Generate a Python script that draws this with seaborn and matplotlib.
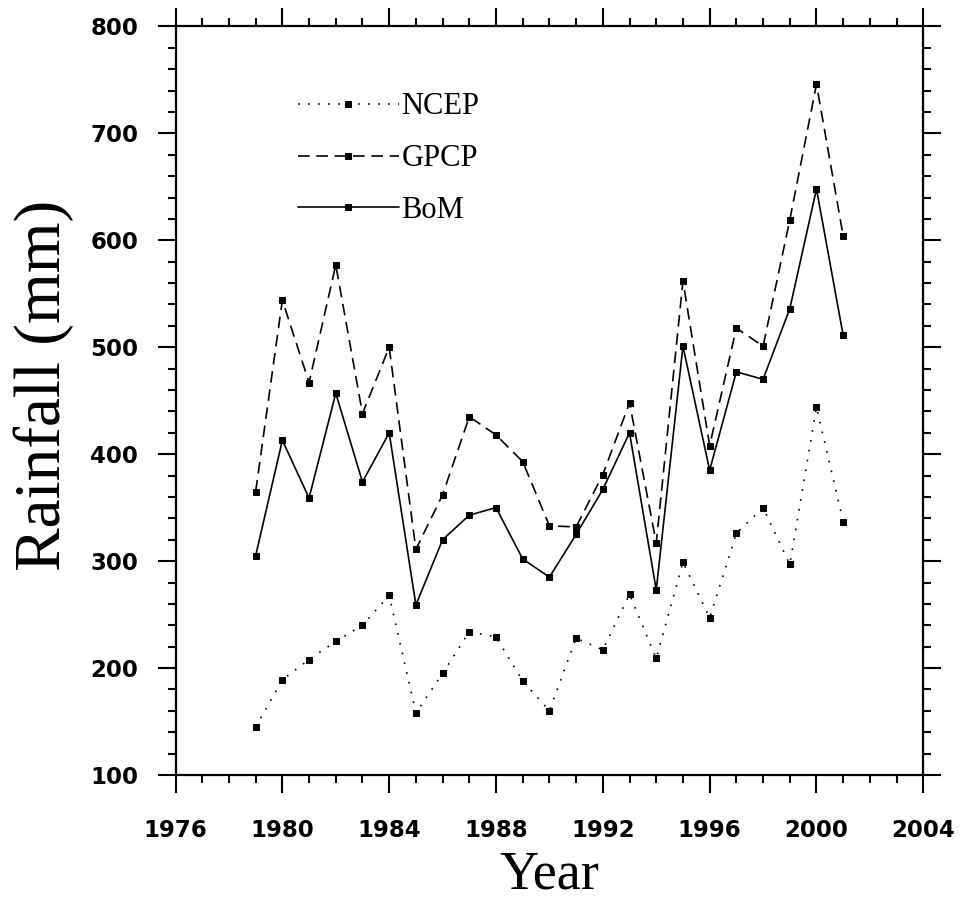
import numpy as np
import pandas as pd
import seaborn as sns
import matplotlib.pyplot as plt
from matplotlib.ticker import MultipleLocator

# annual rainfall (mm)
years = list(range(1979, 2002))
ncep = [145, 189, 208, 225, 240, 268, 158, 195, 234, 229, 188, 160,
        228, 217, 269, 209, 299, 247, 326, 350, 297, 444, 337]
gpcp = [365, 544, 467, 577, 438, 500, 311, 362, 435, 418, 393, 333,
        332, 381, 448, 317, 562, 408, 518, 501, 619, 746, 604]
bom = [305, 413, 359, 457, 374, 420, 259, 320, 343, 350, 302, 285,
       325, 367, 420, 273, 501, 385, 477, 470, 536, 648, 511]

series = ["NCEP", "GPCP", "BoM"]
styles = {"NCEP": (0, (1, 5)), "GPCP": (0, (7, 4)), "BoM": "-"}

df = pd.DataFrame({"Year": years * 3,
                   "Rainfall": ncep + gpcp + bom,
                   "Source": ["NCEP"] * len(years) + ["GPCP"] * len(years) + ["BoM"] * len(years)})

sns.set_style("ticks")
plt.rcParams["font.family"] = ["DejaVu Sans"]

fig = plt.figure(figsize=(9.65, 9.0), dpi=100)
ax = fig.add_axes([0.1819, 0.1389, 0.7749, 0.8317])

for s in series:
    sub = df[df["Source"] == s]
    sns.lineplot(data=sub, x="Year", y="Rainfall", ax=ax, color="black",
                 linestyle=styles[s], linewidth=1.2, marker="s", markersize=5,
                 markeredgecolor="black", label=s)

ax.set_xlim(1976, 2004)
ax.set_ylim(100, 800)
ax.xaxis.set_major_locator(MultipleLocator(4))
ax.xaxis.set_minor_locator(MultipleLocator(1))
ax.yaxis.set_major_locator(MultipleLocator(100))
ax.yaxis.set_minor_locator(MultipleLocator(20))

ax.tick_params(which="both", direction="out", top=True, right=True, width=1.5,
               color="black", labelcolor="black")
ax.tick_params(which="major", length=13)
ax.tick_params(which="minor", length=6)
ax.tick_params(axis="x", which="major", pad=19)
ax.tick_params(axis="y", which="major", pad=14)
for lab in ax.get_xticklabels() + ax.get_yticklabels():
    lab.set_fontsize(16.5)
    lab.set_fontweight("bold")
for sp in ax.spines.values():
    sp.set_linewidth(1.6)
    sp.set_color("black")

ax.set_xlabel("Year", family="Liberation Serif", fontsize=39, va="baseline", color="black")
ax.set_ylabel("Rainfall (mm)", family="Liberation Serif", fontsize=47, va="center", color="black")
ax.xaxis.set_label_coords(0.5, -0.1515)
ax.yaxis.set_label_coords(-0.176, 0.521)

leg = ax.legend(loc="upper left", bbox_to_anchor=(0.1638, 0.912), frameon=False,
                handlelength=3.3, handletextpad=0.08, labelspacing=0.75,
                borderaxespad=0, borderpad=0,
                prop={"family": "Liberation Serif", "size": 22})
for h in leg.legend_handles:
    h.set_markersize(4)
for t in leg.get_texts():
    t.set_color("black")

fig.savefig("out.png", dpi=100, facecolor="white")
